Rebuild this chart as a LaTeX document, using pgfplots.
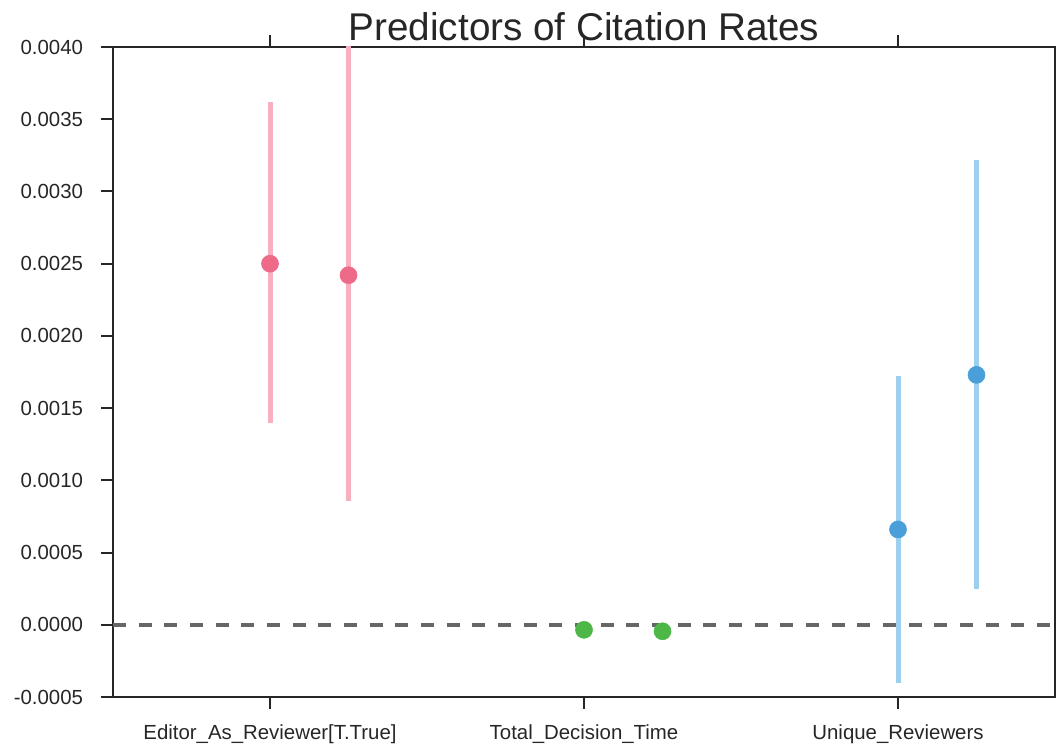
\documentclass[border=0pt]{standalone}
\usepackage{fontspec}
\setmainfont{Liberation Sans}
\usepackage{pgfplots}
\pgfplotsset{compat=1.18}
\usetikzlibrary{calc}

\definecolor{pinkci}{HTML}{F8B0C0}
\definecolor{pinkdot}{HTML}{EE6A88}
\definecolor{greendot}{HTML}{4DB848}
\definecolor{blueci}{HTML}{9CCFF0}
\definecolor{bluedot}{HTML}{4A9FD8}
\definecolor{axgray}{HTML}{262626}
\definecolor{zerogray}{HTML}{666666}

\begin{document}
\begin{tikzpicture}
\begin{axis}[
    name=ax,
    scale only axis,
    width=706.5pt, height=487.5pt,
    xmin=-0.5, xmax=2.5,
    ymin=-0.0005, ymax=0.0040,
    xtick={0,1,2},
    xticklabels={Editor\_As\_Reviewer[T.True], Total\_Decision\_Time, Unique\_Reviewers},
    ytick={-0.0005,0,0.0005,0.0010,0.0015,0.0020,0.0025,0.0030,0.0035,0.0040},
    scaled y ticks=false,
    yticklabel style={/pgf/number format/fixed, /pgf/number format/fixed zerofill,
      /pgf/number format/precision=4},
    /pgf/number format/assume math mode=true,
    tick align=outside,
    xtick pos=both,
    ytick pos=left,
    major tick length=9pt,
    axis line style={axgray, line width=1.5pt},
    tick style={axgray, line width=1.5pt},
    ticklabel style={font=\fontsize{15.3}{18}\selectfont, text=axgray},
    xticklabel style={yshift=-8pt},
    yticklabel style={xshift=-10pt},
    title={Predictors of Citation Rates},
    title style={font=\fontsize{29}{34}\selectfont, text=axgray, at={(0.5,1)}, anchor=base, yshift=-1pt},
    clip=true,
]
% confidence intervals
\addplot[pinkci, line width=3.75pt, no marks] coordinates {(0,0.00140) (0,0.00362)};
\addplot[pinkci, line width=3.75pt, no marks] coordinates {(0.25,0.00086) (0.25,0.0045)};
\addplot[blueci, line width=3.75pt, no marks] coordinates {(2,-0.00040) (2,0.00172)};
\addplot[blueci, line width=3.75pt, no marks] coordinates {(2.25,0.00025) (2.25,0.00322)};
% point estimates
\addplot[only marks, mark=*, mark size=6.4pt, color=pinkdot] coordinates {(0,0.00250) (0.25,0.00242)};
\addplot[only marks, mark=*, mark size=6.4pt, color=greendot] coordinates {(1,-0.000035) (1.25,-0.000045)};
\addplot[only marks, mark=*, mark size=6.4pt, color=bluedot] coordinates {(2,0.00066) (2.25,0.00173)};
% zero line
\addplot[zerogray, line width=3pt, dash pattern=on 9.75pt off 9.5pt, no marks] coordinates {(-0.5,0) (2.5,0)};
\end{axis}
\pgfresetboundingbox
\path ($(ax.south west)+(-84.75pt,-37.5pt)$) rectangle ($(ax.north east)+(2.25pt,35.25pt)$);
\end{tikzpicture}
\end{document}
